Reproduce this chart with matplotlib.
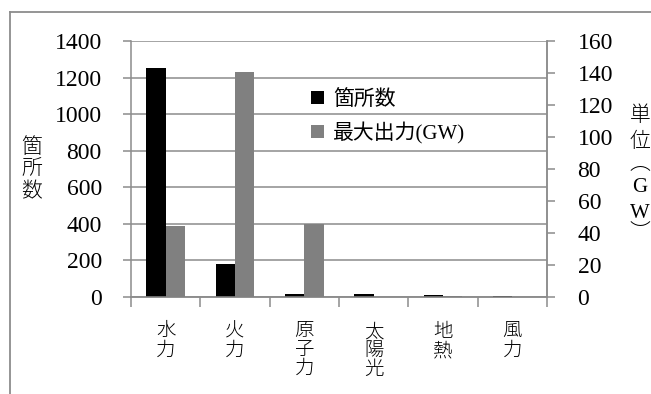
import matplotlib
matplotlib.use("Agg")
import matplotlib.pyplot as plt
import numpy as np
from matplotlib.lines import Line2D

# 発電種別ごとの箇所数と最大出力
categories = ["水\n力", "火\n力", "原\n子\n力", "太\n陽\n光", "地\n熱", "風\n力"]
sites = [1250, 180, 17, 15, 10, 6]
max_output_gw = [44.5, 140.5, 45.5, 0.2, 0.5, 0.3]

left_ticks = list(range(0, 1401, 200))
right_ticks = list(range(0, 161, 20))

GRID = "#8c8c8c"

plt.rcParams["font.family"] = ["Liberation Serif", "Noto Sans CJK JP"]


def main():
    fig = plt.figure(figsize=(6.51, 3.94), dpi=100)
    ax = fig.add_axes([131 / 651, 1 - 297 / 394, 416 / 651, 256 / 394])
    ax2 = ax.twinx()

    x = np.arange(len(categories)) + 0.5
    w = 0.28
    b1 = ax.bar(x - w / 2, sites, w, color="black", label="箇所数", zorder=3)
    b2 = ax2.bar(x + w / 2, max_output_gw, w, color="#808080",
                 label="最大出力(GW)", zorder=3)

    ax.set_xlim(0, len(categories))
    ax.set_ylim(0, 1400)
    ax2.set_ylim(0, 160)
    ax.set_yticks(left_ticks)
    ax2.set_yticks(right_ticks)
    ax.grid(axis="y", color=GRID, lw=1.1, zorder=0)
    ax.set_axisbelow(True)

    # category boundaries get the tick marks, centres get the labels
    ax.set_xticks(np.arange(len(categories) + 1))
    ax.set_xticklabels([])
    ax.set_xticks(x, minor=True)
    ax.set_xticklabels(categories, minor=True, fontsize=14, fontweight="light",
                       linespacing=1.12, va="top")
    ax.tick_params(axis="x", which="major", length=7, color=GRID, width=1.1)
    ax.tick_params(axis="x", which="minor", length=0, pad=19)

    ax.tick_params(axis="y", length=6, color=GRID, width=1.1, pad=15,
                   labelsize=17)
    ax2.tick_params(axis="y", length=6, color=GRID, width=1.1, pad=16,
                    labelsize=17)

    for a in (ax, ax2):
        a.spines["top"].set_visible(False)
        for side in ("left", "right", "bottom"):
            a.spines[side].set_color(GRID)
            a.spines[side].set_linewidth(1.1)
    ax2.spines["left"].set_visible(False)

    fig.text(32 / 651, 1 - 170 / 394, "箇\n所\n数", fontsize=15,
             fontweight="light", ha="center", va="center", linespacing=1.2)

    # vertical unit label, one glyph per row
    unit_chars = ["単", "位", "︵", "G", "W", "︶"]
    unit_rows = [116, 142, 164, 188, 213, 234]
    for ch, row in zip(unit_chars, unit_rows):
        fig.text(640 / 651, 1 - row / 394, ch, fontsize=15,
                 fontweight="light", ha="center", va="center")

    ax.legend([b1, b2], ["箇所数", "最大出力(GW)"], loc="upper left",
              bbox_to_anchor=(0.433, 0.81), frameon=False, fontsize=15,
              handlelength=0.6, handleheight=0.6, handletextpad=0.45,
              labelspacing=0.6, borderpad=0, borderaxespad=0)

    # outer chart border
    fig.add_artist(Line2D([9.5 / 651, 9.5 / 651], [0, 1 - 12 / 394],
                          transform=fig.transFigure, color=GRID, lw=1.3))
    fig.add_artist(Line2D([9.5 / 651, 1], [1 - 12 / 394, 1 - 12 / 394],
                          transform=fig.transFigure, color=GRID, lw=1.3))

    fig.savefig("out.png", dpi=100)


if __name__ == "__main__":
    main()
